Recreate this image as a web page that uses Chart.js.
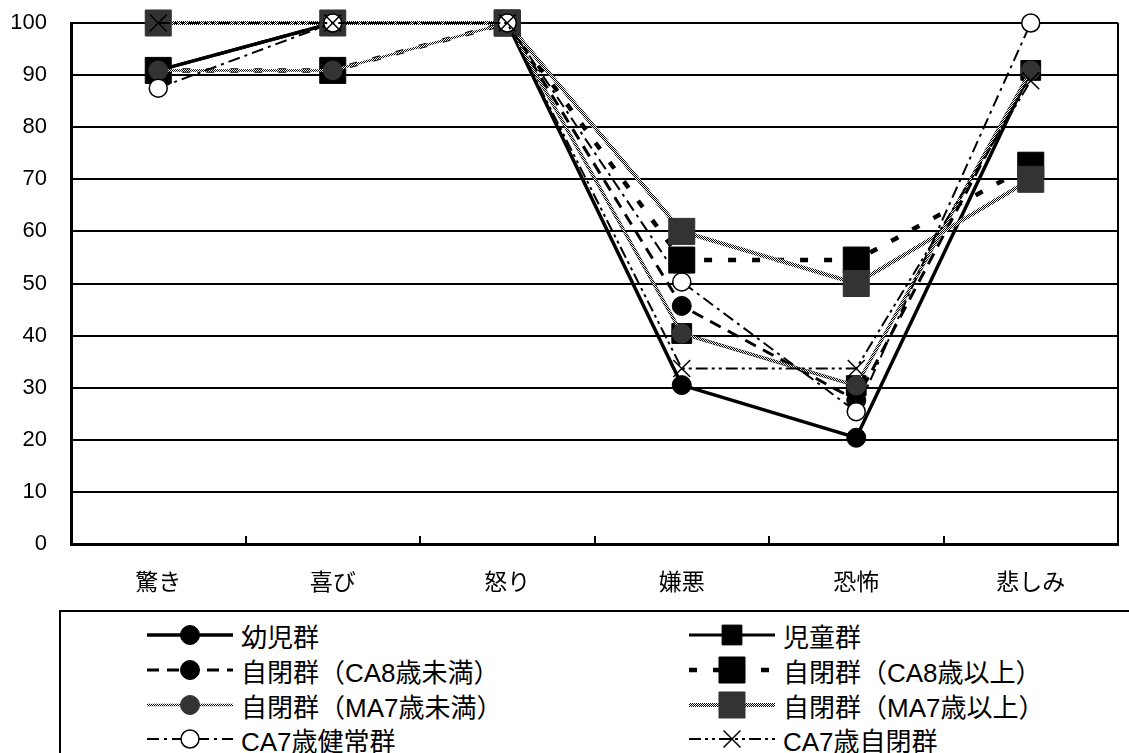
<!DOCTYPE html>
<html lang="ja">
<head>
<meta charset="utf-8">
<title>感情別の正答率</title>
<script src="https://cdn.jsdelivr.net/npm/chart.js@4.4.1/dist/chart.umd.min.js"></script>
<style>
  html, body { margin: 0; padding: 0; background: #fff; overflow: hidden; width: 1129px; height: 753px; }
  #wrap { position: relative; width: 1129px; height: 753px; }
  #chart { position: absolute; left: 0; top: 0; }
  #legend { position: absolute; left: 59px; top: 610px; width: 1110px; height: 170px;
            border: 2px solid #000; box-sizing: border-box; background: #fff; }
  .item { position: absolute; height: 34px; display: flex; align-items: center;
          font-family: "Liberation Sans", "Noto Sans CJK JP", sans-serif; font-size: 26px; color: #000; white-space: nowrap; }
  .item canvas { margin-right: 8px; display: block; }
</style>
</head>
<body>
<div id="wrap">
  <canvas id="chart" width="1129" height="610"></canvas>
  <div id="legend"></div>
</div>
<script>
// Emotion categories on the x axis
const categories = ['驚き', '喜び', '怒り', '嫌悪', '恐怖', '悲しみ'];
// Y axis range and step (percent correct)
const yMin = 0;
const yMax = 100;
const yStep = 10;

// Group names
const seriesNames = [
  '幼児群', '児童群',
  '自閉群（CA8歳未満）', '自閉群（CA8歳以上）',
  '自閉群（MA7歳未満）', '自閉群（MA7歳以上）',
  'CA7歳健常群', 'CA7歳自閉群'
];

// Percent correct for each group, per emotion
const infant       = [90.9, 100, 100, 30.5, 20.4, 90.9];
const school       = [90.9, 100, 100, 40.4, 30.4, 90.9];
const autUnderCA8  = [90.9, 100, 100, 45.7, 27.6, 90.9];
const autOverCA8   = [90.9, 90.9, 100, 54.5, 54.5, 72.7];
const autUnderMA7  = [90.9, 90.9, 100, 40.4, 30.4, 90.9];
const autOverMA7   = [100, 100, 100, 60, 50, 70];
const typicalCA7   = [87.5, 100, 100, 50.3, 25.4, 100];
const autismCA7    = [100, 100, 100, 33.7, 33.7, 88.9];

const seriesValues = [infant, school, autUnderCA8, autOverCA8, autUnderMA7, autOverMA7, typicalCA7, autismCA7];

// 2x2 checker tile used for the stippled grey lines
const tile = document.createElement('canvas');
tile.width = 2; tile.height = 2;
(function () {
  const g = tile.getContext('2d');
  g.fillStyle = '#fff'; g.fillRect(0, 0, 2, 2);
  g.fillStyle = '#000'; g.fillRect(0, 0, 1, 1); g.fillRect(1, 1, 1, 1);
})();

// Line and marker style for each group
const looks = [
  { color: '#000', width: 3.5, dash: [],               point: 'circle',   r: 9.5,  fill: '#000', edge: '#000', edgeW: 1 },
  { color: '#000', width: 3,   dash: [],               point: 'rect',     r: 14,   fill: '#000', edge: '#000', edgeW: 1 },
  { color: '#000', width: 3,   dash: [12, 8],          point: 'circle',   r: 9.5,  fill: '#000', edge: '#000', edgeW: 1 },
  { color: '#000', width: 4.5, dash: [8, 16],          point: 'rect',     r: 18.4, fill: '#000', edge: '#000', edgeW: 1 },
  { checker: true, width: 2.5, dash: [],               point: 'circle',   r: 9.5,  fill: '#333', edge: '#333', edgeW: 1 },
  { checker: true, width: 4,   dash: [],               point: 'rect',     r: 18.4, fill: '#333', edge: '#333', edgeW: 1 },
  { color: '#000', width: 2,   dash: [12, 5, 3, 5],    point: 'circle',   r: 9,    fill: '#fff', edge: '#000', edgeW: 1.5 },
  { color: '#000', width: 2,   dash: [12, 4, 3, 4, 3, 4], point: 'crossRot', r: 12, fill: '#000', edge: '#000', edgeW: 1.5 }
];

const canvas = document.getElementById('chart');
const mainCtx = canvas.getContext('2d');
const stipple = mainCtx.createPattern(tile, 'repeat');

const datasets = seriesValues.map((vals, i) => {
  const s = looks[i];
  return {
    label: seriesNames[i],
    data: vals,
    borderColor: s.checker ? stipple : s.color,
    borderWidth: s.width,
    borderDash: s.dash,
    borderCapStyle: 'butt',
    pointStyle: s.point,
    pointRadius: s.r,
    pointHoverRadius: s.r,
    pointBackgroundColor: s.fill,
    pointBorderColor: s.edge,
    pointBorderWidth: s.edgeW,
    tension: 0,
    fill: false,
    clip: false,
    // later groups are painted on top of earlier ones
    order: seriesValues.length - 1 - i
  };
});

const fontFamily = '"Liberation Sans", "Noto Sans CJK JP", sans-serif';

// Plot frame: right border and inward tick marks between categories
const framePlugin = {
  id: 'frame',
  beforeDatasetsDraw(chart) {
    const { ctx, chartArea: a, scales: { x } } = chart;
    ctx.save();
    ctx.strokeStyle = '#000';
    ctx.lineWidth = 2;
    ctx.beginPath();
    ctx.moveTo(a.right, a.top);
    ctx.lineTo(a.right, a.bottom);
    ctx.stroke();
    for (let i = 1; i < categories.length; i++) {
      const px = Math.round(x.getPixelForValue(i - 0.5));
      ctx.beginPath();
      ctx.moveTo(px, a.bottom);
      ctx.lineTo(px, a.bottom - 8);
      ctx.stroke();
    }
    ctx.restore();
  }
};

new Chart(mainCtx, {
  type: 'line',
  data: { labels: categories, datasets },
  options: {
    responsive: false,
    animation: false,
    events: [],
    layout: { autoPadding: false, padding: { top: 23, right: 11, left: 0, bottom: 0 } },
    plugins: { legend: { display: false }, tooltip: { enabled: false } },
    scales: {
      x: {
        type: 'category',
        offset: true,
        grid: { display: false },
        border: { display: true, color: '#000', width: 3 },
        ticks: { color: '#000', padding: 18, font: { family: fontFamily, size: 23 }, maxRotation: 0 },
        afterFit(scale) { scale.height = 66; scale.paddingLeft = 0; scale.paddingRight = 0; }
      },
      y: {
        min: yMin, max: yMax,
        grid: { color: '#000', lineWidth: 2, drawTicks: false },
        border: { display: true, color: '#000', width: 3 },
        ticks: { stepSize: yStep, color: '#000', padding: 24, font: { family: fontFamily, size: 22 } },
        afterFit(scale) { scale.width = 71; scale.paddingTop = 0; scale.paddingBottom = 0; }
      }
    }
  },
  plugins: [framePlugin]
});

// Boxed legend: two columns, each entry shows its line with the marker on it
function drawMarker(g, s, x, y) {
  g.save();
  g.setLineDash([]);
  g.fillStyle = s.fill;
  g.strokeStyle = s.edge;
  g.lineWidth = s.edgeW;
  g.beginPath();
  if (s.point === 'circle') {
    g.arc(x, y, s.r, 0, Math.PI * 2);
    g.fill(); g.stroke();
  } else if (s.point === 'rect') {
    const h = Math.SQRT1_2 * s.r;
    g.rect(x - h, y - h, 2 * h, 2 * h);
    g.fill(); g.stroke();
  } else if (s.point === 'crossRot') {
    const o = Math.SQRT1_2 * s.r;
    g.moveTo(x - o, y - o); g.lineTo(x + o, y + o);
    g.moveTo(x - o, y + o); g.lineTo(x + o, y - o);
    g.stroke();
  }
  g.restore();
}

const legend = document.getElementById('legend');
const colLeft = [86, 628];
const rowTop = [6, 41, 76, 110];
seriesNames.forEach((name, i) => {
  const s = looks[i];
  const item = document.createElement('div');
  item.className = 'item';
  item.style.left = colLeft[i % 2] + 'px';
  item.style.top = rowTop[Math.floor(i / 2)] + 'px';
  const sw = document.createElement('canvas');
  sw.width = 86; sw.height = 34;
  const g = sw.getContext('2d');
  g.strokeStyle = s.checker ? g.createPattern(tile, 'repeat') : s.color;
  g.lineWidth = s.width;
  g.setLineDash(s.dash);
  g.beginPath();
  g.moveTo(0, 17); g.lineTo(86, 17);
  g.stroke();
  drawMarker(g, s, 43, 17);
  const label = document.createElement('span');
  label.textContent = name;
  item.appendChild(sw);
  item.appendChild(label);
  legend.appendChild(item);
});
</script>
</body>
</html>
